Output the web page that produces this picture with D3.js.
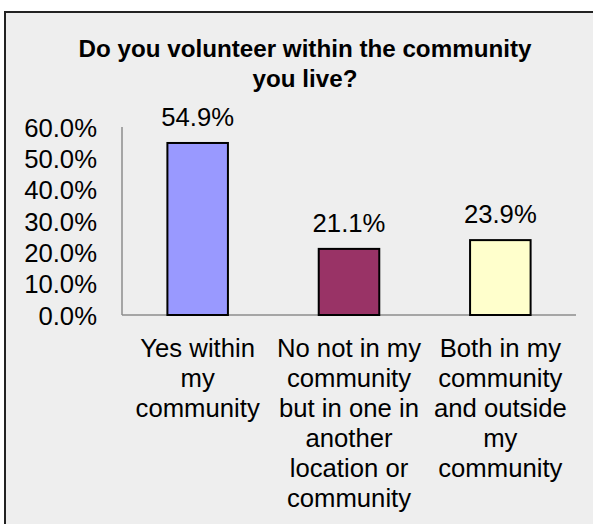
<!DOCTYPE html>
<html>
<head>
<meta charset="utf-8">
<script src="https://cdn.jsdelivr.net/npm/d3@7"></script>
<style>
  html, body { margin: 0; padding: 0; background: #ffffff; }
  svg { display: block; }
  text { font-family: "Liberation Sans", Arial, sans-serif; fill: #000; }
</style>
</head>
<body>
<svg id="chart" width="593" height="524"></svg>
<script>
// Survey answers and their shares
const categories = [
  ["Yes within", "my", "community"],
  ["No not in my", "community", "but in one in", "another", "location or", "community"],
  ["Both in my", "community", "and outside", "my", "community"]
];
const values = [54.9, 21.1, 23.9];
const colors = ["#9999ff", "#993366", "#ffffcc"];
const tickValues = [0, 10, 20, 30, 40, 50, 60];
const titleLines = ["Do you volunteer within the community", "you live?"];

const svg = d3.select("#chart");

// Chart frame
svg.append("rect")
  .attr("x", 5).attr("y", 12)
  .attr("width", 600).attr("height", 530)
  .attr("fill", "#eeeeee")
  .attr("stroke", "#222").attr("stroke-width", 2);

// Title
svg.append("text")
  .attr("text-anchor", "middle")
  .attr("font-size", "24.2px")
  .attr("font-weight", "bold")
  .selectAll("tspan").data(titleLines).join("tspan")
  .attr("x", 305)
  .attr("y", (d, i) => 57 + i * 30)
  .text(d => d);

// Plot area
const plot = { left: 122, right: 576, top: 127, bottom: 315 };
const fontSize = "25.7px";

const x = d3.scaleBand()
  .domain(d3.range(values.length))
  .range([plot.left, plot.right])
  .paddingInner(0.6)
  .paddingOuter(0.3);

const y = d3.scaleLinear()
  .domain([0, 60])
  .range([plot.bottom, plot.top]);

// Y axis labels
const yAxis = d3.axisLeft(y)
  .tickValues(tickValues)
  .tickFormat(d => d3.format(".1f")(d) + "%")
  .tickSize(0)
  .tickPadding(25);

const yg = svg.append("g")
  .attr("transform", `translate(${plot.left},0)`)
  .call(yAxis);
yg.select(".domain").remove();
yg.selectAll("text")
  .attr("font-family", "'Liberation Sans', Arial, sans-serif")
  .attr("font-size", fontSize)
  .attr("fill", "#000")
  .attr("dy", null)
  .attr("y", 9);

// Axis lines
svg.append("line")
  .attr("x1", plot.left).attr("x2", plot.left)
  .attr("y1", y(60)).attr("y2", y(0))
  .attr("stroke", "#8c8c8c").attr("stroke-width", 1.5);
svg.append("line")
  .attr("x1", plot.left).attr("x2", plot.right)
  .attr("y1", y(0)).attr("y2", y(0))
  .attr("stroke", "#8c8c8c").attr("stroke-width", 1.5);

// Bars
svg.selectAll("rect.bar").data(values).join("rect")
  .attr("class", "bar")
  .attr("x", (d, i) => x(i))
  .attr("y", d => y(d))
  .attr("width", x.bandwidth())
  .attr("height", d => y(0) - y(d))
  .attr("fill", (d, i) => colors[i])
  .attr("stroke", "#000")
  .attr("stroke-width", 2);

// Value labels
svg.selectAll("text.val").data(values).join("text")
  .attr("class", "val")
  .attr("x", (d, i) => x(i) + x.bandwidth() / 2)
  .attr("y", d => y(d) - 17)
  .attr("text-anchor", "middle")
  .attr("font-size", fontSize)
  .text(d => d3.format(".1f")(d) + "%");

// Category labels
const catG = svg.selectAll("text.cat").data(categories).join("text")
  .attr("class", "cat")
  .attr("text-anchor", "middle")
  .attr("font-size", fontSize);
catG.each(function(lines, i) {
  d3.select(this).selectAll("tspan").data(lines).join("tspan")
    .attr("x", x(i) + x.bandwidth() / 2)
    .attr("y", (d, j) => 357 + j * 30)
    .text(d => d);
});
</script>
</body>
</html>
